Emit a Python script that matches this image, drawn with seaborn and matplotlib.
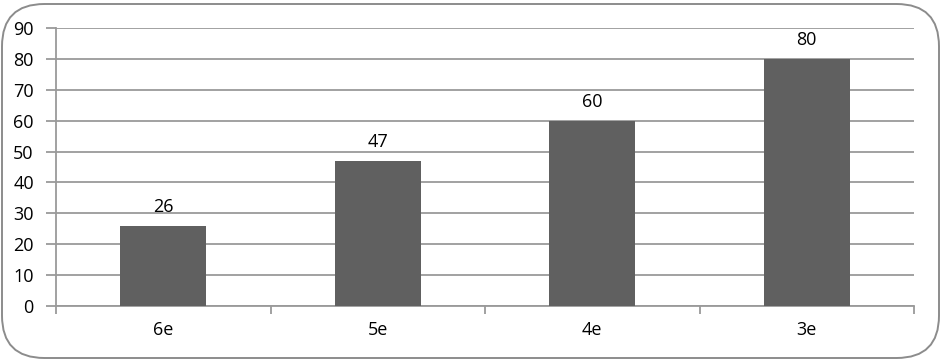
import matplotlib
matplotlib.use("Agg")
import matplotlib.pyplot as plt
import seaborn as sns
import pandas as pd
from matplotlib.patches import FancyBboxPatch

categories = ["6e", "5e", "4e", "3e"]
values = [26, 47, 60, 80]
yticks = [0, 10, 20, 30, 40, 50, 60, 70, 80, 90]

sns.set_theme(style="white")
plt.rcParams['font.family'] = ['Open Sans', 'DejaVu Sans']

df = pd.DataFrame({"cat": categories, "val": values})

fig = plt.figure(figsize=(9.42, 3.6), dpi=100)
ax = fig.add_axes([56/942, 1-306/360, (914-56)/942, (306-28)/360])

grid_c = "#9a9a9a"
fs = 13
sns.barplot(data=df, x="cat", y="val", color="#606060", saturation=1,
            width=0.4, ax=ax, zorder=3)
for p in ax.patches:
    p.set_edgecolor("none")

ax.set_ylim(0, 90)
ax.set_xlim(-0.5, 3.5)
ax.set_yticks(yticks)
ax.set_yticklabels([str(t) for t in yticks], fontsize=fs, color="#000000")
ax.set_xticks(range(len(categories)))
ax.set_xticklabels(categories, fontsize=fs, color="#000000")
ax.set_xticks([i - 0.5 for i in range(len(categories) + 1)], minor=True)
ax.tick_params(axis="x", which="both", bottom=True)
ax.tick_params(axis="y", which="both", left=True)
ax.tick_params(axis="x", which="major", length=0, pad=11)
ax.tick_params(axis="x", which="minor", length=6, width=1.3, color=grid_c, direction="out")
ax.tick_params(axis="y", which="major", length=7, width=1.3, color=grid_c, direction="out", pad=9)
ax.yaxis.grid(True, color=grid_c, linewidth=1.3, zorder=0)
ax.set_axisbelow(True)
ax.set_xlabel("")
ax.set_ylabel("")
for s in ["top", "right"]:
    ax.spines[s].set_visible(False)
for s in ["left", "bottom"]:
    ax.spines[s].set_color(grid_c)
    ax.spines[s].set_linewidth(1.3)

for i, v in enumerate(values):
    ax.annotate(str(v), (i, v), xytext=(0, 7), textcoords="offset points",
                ha="center", va="bottom", fontsize=fs, color="#000000")

border = FancyBboxPatch((2/942, 2/360), 937/942, 354/360,
                        boxstyle="round,pad=0,rounding_size=0.045",
                        transform=fig.transFigure, facecolor="none",
                        edgecolor="#8c8c8c", linewidth=1.4,
                        mutation_aspect=942/360)
fig.patches.append(border)

fig.savefig("out.png", dpi=100, facecolor="white")
